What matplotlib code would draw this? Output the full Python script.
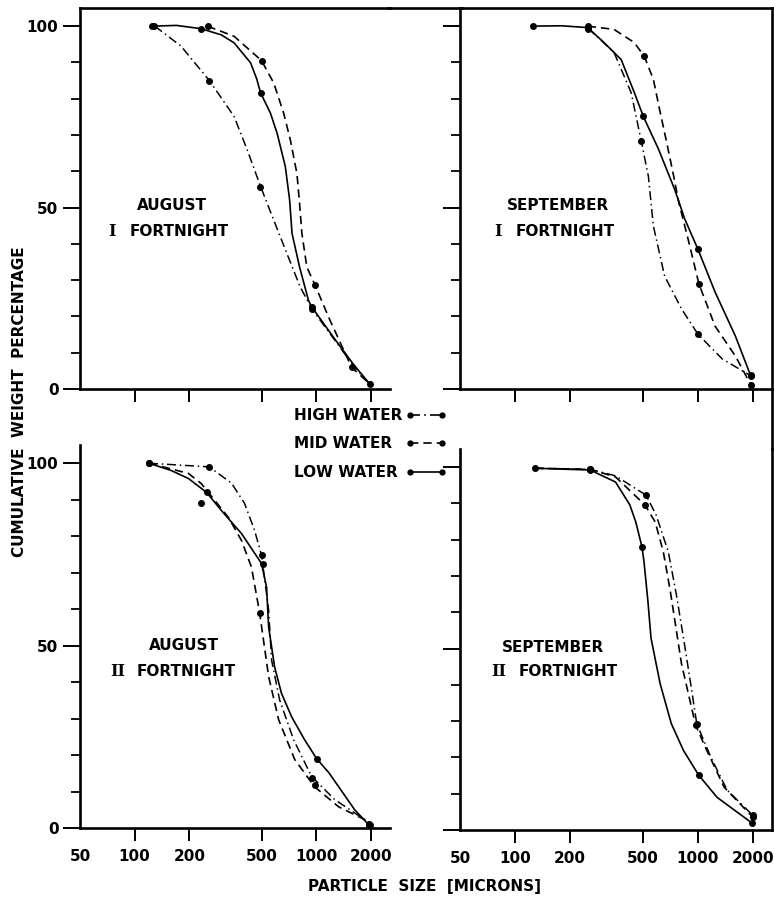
import matplotlib
matplotlib.use("Agg")
import matplotlib.pyplot as plt
from matplotlib.lines import Line2D
from matplotlib.ticker import FixedLocator, NullFormatter

# ---- data (particle size in microns, cumulative weight %) ----
# August, I fortnight
aug1_low_x = [125, 170, 232, 300, 353, 435, 470, 494, 560, 609, 676, 714, 736, 810, 907, 946, 1243, 1598, 1970]
aug1_low_y = [100, 100.2, 99.3, 97.6, 95.4, 89.9, 85.5, 81.6, 76, 70.5, 61.3, 52.1, 42.9, 33.6, 24.4, 22.6, 14.3, 6.9, 1.4]
aug1_mid_x = [252, 353, 500, 584, 662, 720, 783, 807, 834, 888, 986, 1192, 1566, 1970]
aug1_mid_y = [100, 97.2, 90.5, 84.3, 76, 68.7, 59.4, 52.1, 42.9, 33.6, 28.6, 18.9, 6, 1.4]
aug1_high_x = [129, 180, 258, 353, 417, 494, 584, 690, 817, 946, 1243, 1598, 1970]
aug1_high_y = [100, 94.5, 85, 75.1, 65.9, 55.8, 46.5, 37.3, 28.1, 22.1, 14, 6.5, 1.4]
aug1_low_pts = ([125, 232, 494, 946, 1970], [100, 99.3, 81.6, 22.6, 1.4])
aug1_mid_pts = ([252, 500, 986, 1566], [100, 90.5, 28.6, 6])
aug1_high_pts = ([128, 256, 493, 950], [100, 85, 55.7, 22])

# September, I fortnight
sep1_low_x = [126, 180, 250, 308, 381, 449, 504, 610, 748, 850, 1003, 1245, 1607, 1945]
sep1_low_y = [100, 100.1, 99.6, 95.4, 90.8, 81.8, 75.1, 66.1, 55, 46.8, 38.5, 26.7, 14.6, 3.8]
sep1_mid_x = [250, 348, 449, 510, 572, 618, 676, 739, 787, 894, 1016, 1245, 1607, 1960]
sep1_mid_y = [100, 99.1, 95.5, 91.7, 85.3, 77.1, 68, 58.6, 51.5, 40.5, 28.9, 17.3, 9.1, 1.0]
sep1_high_x = [250, 348, 432, 491, 537, 572, 659, 817, 1003, 1361, 1945]
sep1_high_y = [99.5, 92.8, 81.7, 68.3, 58.6, 44.9, 31.1, 22, 15.1, 8.3, 3.7]
sep1_low_pts = ([126, 250, 504, 1003, 1945], [100, 99.3, 75.1, 38.5, 3.8])
sep1_mid_pts = ([250, 510, 1016, 1960], [100, 91.7, 28.9, 1.0])
sep1_high_pts = ([250, 491, 1003, 1945], [99.5, 68.3, 15.1, 3.7])

# August, II fortnight
aug2_low_x = [120, 159, 198, 249, 301, 388, 500, 533, 547, 590, 644, 732, 863, 1006, 1172, 1330, 1629, 1946]
aug2_low_y = [100, 98, 95.8, 92, 87, 80.7, 72.5, 66, 55.1, 44.2, 36.9, 30.5, 24.2, 19, 15.2, 11.3, 5.0, 0.9]
aug2_mid_x = [120, 198, 233, 329, 388, 440, 488, 547, 621, 761, 980, 1330, 1850, 1946]
aug2_mid_y = [100, 97.2, 94.4, 85.1, 78.8, 71.5, 59, 41.5, 29.7, 18.8, 11.3, 5.8, 2.3, 0.6]
aug2_high_x = [120, 258, 342, 403, 457, 500, 547, 568, 629, 751, 944, 1264, 1850, 1946]
aug2_high_y = [100, 99, 94.5, 89, 81.7, 74.8, 59.8, 46, 35.1, 24.2, 14.1, 7.8, 2.3, 1]
aug2_low_pts = ([120, 249, 507, 1005, 1980], [100, 92, 72.5, 18.9, 0.9])
aug2_mid_pts = ([233, 488, 980, 1946], [89, 59, 11.9, 0.6])
aug2_high_pts = ([120, 258, 500, 944, 1946], [100, 99, 74.8, 13.7, 1])

# September, II fortnight
sep2_low_x = [129, 258, 355, 425, 458, 495, 508, 534, 555, 623, 717, 836, 1013, 1276, 1972]
sep2_low_y = [99.7, 99.2, 95.9, 89.6, 84.9, 78.1, 74, 63, 52.9, 40.3, 29.3, 21.9, 15.1, 9, 2]
sep2_mid_x = [129, 258, 355, 514, 585, 648, 708, 755, 815, 915, 975, 1122, 1395, 1996]
sep2_mid_y = [99.7, 99.4, 97.3, 89.6, 84.9, 76.7, 65.8, 56.7, 45.8, 34.8, 28.8, 21.9, 11.8, 3.6]
sep2_high_x = [129, 258, 355, 521, 592, 690, 764, 836, 915, 988, 1181, 1449, 1996]
sep2_high_y = [99.7, 99.4, 97.6, 92.3, 86.8, 76.7, 64.9, 52.9, 40.3, 29.3, 20, 11, 4.1]
sep2_low_pts = ([129, 258, 495, 1013, 1972], [99.7, 99.3, 78.1, 15.1, 2])
sep2_mid_pts = ([258, 514, 975, 1996], [99.4, 89.6, 28.8, 3.6])
sep2_high_pts = ([258, 521, 988, 1996], [99.4, 92.3, 29.3, 4.1])

size_ticks = [50, 100, 200, 500, 1000, 2000]
size_labels = ["50", "100", "200", "500", "1000", "2000"]

W, H = 774, 900
def fx(px):
    return px / W
def fy(py):
    return 1 - py / H

FONT = "DejaVu Sans"
FS = 11
SOLID = "-"
DASHED = (0, (5, 3))
DASHDOT = (0, (6, 2.5, 1, 2.5))
LW = 1.2

fig = plt.figure(figsize=(W / 100, H / 100), dpi=100)

# axes rectangles in pixels: left, top, right, bottom
rects = {
    "tl": (80, 8, 390, 389),
    "tr": (460, 8, 772, 389),
    "bl": (80, 445, 390, 828),
    "br": (460, 449, 772, 830),
}

panels = [
    ("tl", "AUGUST", "I", (aug1_low_x, aug1_low_y), (aug1_mid_x, aug1_mid_y), (aug1_high_x, aug1_high_y),
     aug1_low_pts, aug1_mid_pts, aug1_high_pts),
    ("tr", "SEPTEMBER", "I", (sep1_low_x, sep1_low_y), (sep1_mid_x, sep1_mid_y), (sep1_high_x, sep1_high_y),
     sep1_low_pts, sep1_mid_pts, sep1_high_pts),
    ("bl", "AUGUST", "II", (aug2_low_x, aug2_low_y), (aug2_mid_x, aug2_mid_y), (aug2_high_x, aug2_high_y),
     aug2_low_pts, aug2_mid_pts, aug2_high_pts),
    ("br", "SEPTEMBER", "II", (sep2_low_x, sep2_low_y), (sep2_mid_x, sep2_mid_y), (sep2_high_x, sep2_high_y),
     sep2_low_pts, sep2_mid_pts, sep2_high_pts),
]

# label positions (pixels): month centre x/y, numeral x, "FORTNIGHT" left x, second row y
label_pos = {
    "tl": (172, 206, 112, 130, 232),
    "tr": (558, 205, 498, 516, 232),
    "bl": (184, 646, 118, 137, 671),
    "br": (553, 648, 499, 519, 672),
}

for key, month, numeral, low, mid, high, low_pts, mid_pts, high_pts in panels:
    l, t, r, b = rects[key]
    ax = fig.add_axes([fx(l), fy(b), fx(r) - fx(l), (b - t) / H])
    ax.set_xscale("log")
    ax.set_xlim(50, 2550)
    ax.set_ylim(0, 105)

    ax.plot(*low, color="black", lw=LW, ls=SOLID)
    ax.plot(*mid, color="black", lw=LW, ls=DASHED)
    ax.plot(*high, color="black", lw=LW * 0.9, ls=DASHDOT)
    for pts in (low_pts, mid_pts, high_pts):
        ax.plot(*pts, ls="none", marker="o", ms=4, color="black")

    for s in ax.spines.values():
        s.set_linewidth(1.9)
    ax.spines["top"].set_visible(key in ("tl", "tr"))
    ax.spines["right"].set_visible(key in ("tr", "br"))

    ax.xaxis.set_major_locator(FixedLocator(size_ticks))
    ax.xaxis.set_minor_locator(FixedLocator([]))
    ax.yaxis.set_major_locator(FixedLocator([0, 50, 100]))
    ax.yaxis.set_minor_locator(FixedLocator([10, 20, 30, 40, 60, 70, 80, 90]))
    ax.tick_params(axis="x", which="major", direction="out", length=9, width=1.4,
                   top=False, pad=6)
    ax.tick_params(axis="y", which="major", direction="out", length=12.5, width=1.4,
                   right=False, pad=3)
    ax.tick_params(axis="y", which="minor", direction="out", length=6.5, width=1.3,
                   right=False)
    if key in ("bl", "br"):
        ax.set_xticklabels(size_labels, fontfamily=FONT, fontweight="bold", fontsize=FS)
    else:
        ax.xaxis.set_major_formatter(NullFormatter())
    # the 50 tick sits on the left spine: no tick mark there
    ax.xaxis.get_major_ticks()[0].tick1line.set_visible(False)
    if key in ("tl", "bl"):
        ax.set_yticklabels(["0", "50", "100"], fontfamily=FONT, fontweight="bold", fontsize=FS)
    else:
        ax.yaxis.set_major_formatter(NullFormatter())

    mx, my, nx, fx0, fy0 = label_pos[key]
    fig.text(fx(mx), fy(my), month, ha="center", va="center", fontfamily=FONT,
             fontweight="bold", fontsize=FS)
    fig.text(fx(nx), fy(fy0), numeral, ha="center", va="center", fontfamily="DejaVu Serif",
             fontweight="bold", fontsize=FS + 0.5)
    fig.text(fx(fx0), fy(fy0), "FORTNIGHT", ha="left", va="center", fontfamily=FONT,
             fontweight="bold", fontsize=FS)

# continuous outer frame pieces between panels
fig.add_artist(Line2D([fx(388), fx(462)], [fy(8), fy(8)], transform=fig.transFigure,
                      color="black", lw=1.9))
fig.add_artist(Line2D([fx(772), fx(772)], [fy(389), fy(449)], transform=fig.transFigure,
                      color="black", lw=1.9))

# legend
legend_rows = [("HIGH WATER", DASHDOT, 415), ("MID WATER", DASHED, 443), ("LOW WATER", SOLID, 472)]
for name, style, py in legend_rows:
    fig.text(fx(294), fy(py), name, ha="left", va="center", fontfamily=FONT,
             fontweight="bold", fontsize=FS)
    fig.add_artist(Line2D([fx(410), fx(442)], [fy(py), fy(py)], transform=fig.transFigure,
                          color="black", lw=LW, ls=style, marker="o", ms=3.5,
                          markevery=[0, 1]))

fig.text(fx(20), fy(402), "CUMULATIVE  WEIGHT  PERCENTAGE", rotation=90, ha="center",
         va="center", fontfamily=FONT, fontweight="bold", fontsize=FS)
fig.text(fx(424), fy(886), "PARTICLE  SIZE  [MICRONS]", ha="center", va="center",
         fontfamily=FONT, fontweight="bold", fontsize=FS)

fig.savefig("out.png", dpi=100, facecolor="white")
